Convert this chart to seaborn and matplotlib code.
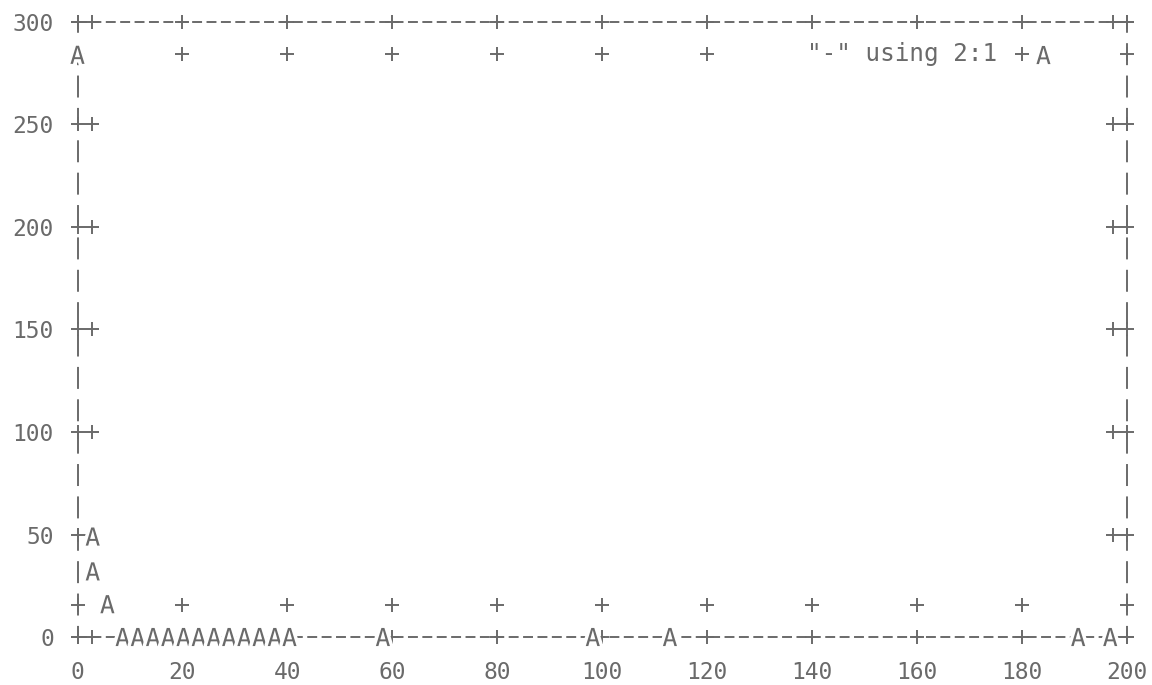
import matplotlib
matplotlib.use("Agg")
import matplotlib.pyplot as plt
import matplotlib.patheffects as pe
from matplotlib.transforms import offset_copy
import pandas as pd
import seaborn as sns

# ---- data ----
x_values = [0, 2.9, 2.9, 5.7, 8.6, 11.5, 14.4, 17.3, 20.2, 23.1, 26.0, 28.9,
            31.8, 34.7, 37.6, 40.4, 58.2, 98.2, 112.9, 190.7, 196.8]
y_values = [284, 49, 32, 16, 0, 0, 0, 0, 0, 0, 0, 0,
            0, 0, 0, 0, 0, 0, 0, 0, 0]
x_ticks = [0, 20, 40, 60, 80, 100, 120, 140, 160, 180, 200]
y_ticks = [0, 50, 100, 150, 200, 250, 300]
series_label = '"-" using 2:1'

GRAY = "#6a6a6a"
FONT = "DejaVu Sans Mono"
FS = 16.5
FS_KEY = 17.5

sns.set_style("white")
plt.rcParams["font.family"] = [FONT]
plt.rcParams["mathtext.fontset"] = "custom"
plt.rcParams["mathtext.rm"] = FONT
plt.rcParams["mathtext.it"] = FONT

W, H = 1152, 685
fig = plt.figure(figsize=(W / 100, H / 100), dpi=100)
left_px, right_px, top_px, bottom_px = 77.5, 1127.0, 22.0, 637.0
ax = fig.add_axes([left_px / W, (H - bottom_px) / H,
                   (right_px - left_px) / W, (bottom_px - top_px) / H])

df = pd.DataFrame({"x": x_values, "y": y_values})
sns.scatterplot(data=df, x="x", y="y", marker=r"$\mathrm{A}$", s=170,
                color=GRAY, linewidth=0, ax=ax, label=series_label,
                clip_on=False, zorder=6)
ax.collections[-1].set_path_effects(
    [pe.withStroke(linewidth=5, foreground="white")])

x_lo, x_hi = x_ticks[0], x_ticks[-1]
y_lo, y_hi = y_ticks[0], y_ticks[-1]
ax.set_xlim(x_lo, x_hi)
ax.set_ylim(y_lo, y_hi)
ax.set_xticks(x_ticks)
ax.set_yticks(y_ticks)
ax.set_xticklabels([str(v) for v in x_ticks])
ax.set_yticklabels([str(v) for v in y_ticks])
ax.set_xlabel("")
ax.set_ylabel("")
ax.tick_params(axis="both", length=0, labelsize=FS, labelcolor=GRAY)
ax.tick_params(axis="x", pad=17)
ax.tick_params(axis="y", pad=17)

# ASCII-like borders
LW = 1.4
for side in ["top", "bottom"]:
    sp = ax.spines[side]
    sp.set_visible(True)
    sp.set_color(GRAY)
    sp.set_linewidth(LW)
    sp.set_linestyle((0, (4.1, 3.3)))
for side in ["left", "right"]:
    sp = ax.spines[side]
    sp.set_visible(True)
    sp.set_color(GRAY)
    sp.set_linewidth(LW)
    sp.set_linestyle((5.1, (10.3, 6.35)))

# "+" tick marks: one on the border, one a character cell inside
ROW, COL = 32.4, 14.4
plus = dict(marker="+", markersize=9.5, markeredgewidth=LW, color=GRAY,
            linestyle="none", clip_on=False, zorder=3)


def shifted(dx, dy):
    return offset_copy(ax.transData, fig=fig, x=dx, y=dy, units="dots")


n, m = len(x_ticks), len(y_ticks)
ax.plot(x_ticks, [y_lo] * n, **plus)
ax.plot(x_ticks, [y_lo] * n, transform=shifted(0, ROW), **plus)
ax.plot(x_ticks, [y_hi] * n, **plus)
ax.plot(x_ticks, [y_hi] * n, transform=shifted(0, -ROW), **plus)
ax.plot([x_lo] * m, y_ticks, **plus)
ax.plot([x_lo] * m, y_ticks, transform=shifted(COL, 0), **plus)
ax.plot([x_hi] * m, y_ticks, **plus)
ax.plot([x_hi] * m, y_ticks, transform=shifted(-COL, 0), **plus)

# key
fx = (1055 - left_px) / (right_px - left_px)
fy = (bottom_px - 54.4) / (bottom_px - top_px)
leg = ax.legend(loc="center right", bbox_to_anchor=(fx, fy), frameon=False,
                markerfirst=False, handletextpad=1.45, handlelength=0.95,
                borderpad=0, borderaxespad=0, fontsize=FS_KEY, labelcolor=GRAY,
                scatterpoints=1)
leg.set_zorder(7)
for t in leg.get_texts():
    t.set_bbox(dict(facecolor="white", edgecolor="none", pad=9))

fig.savefig("out.png", dpi=100, facecolor="white")
